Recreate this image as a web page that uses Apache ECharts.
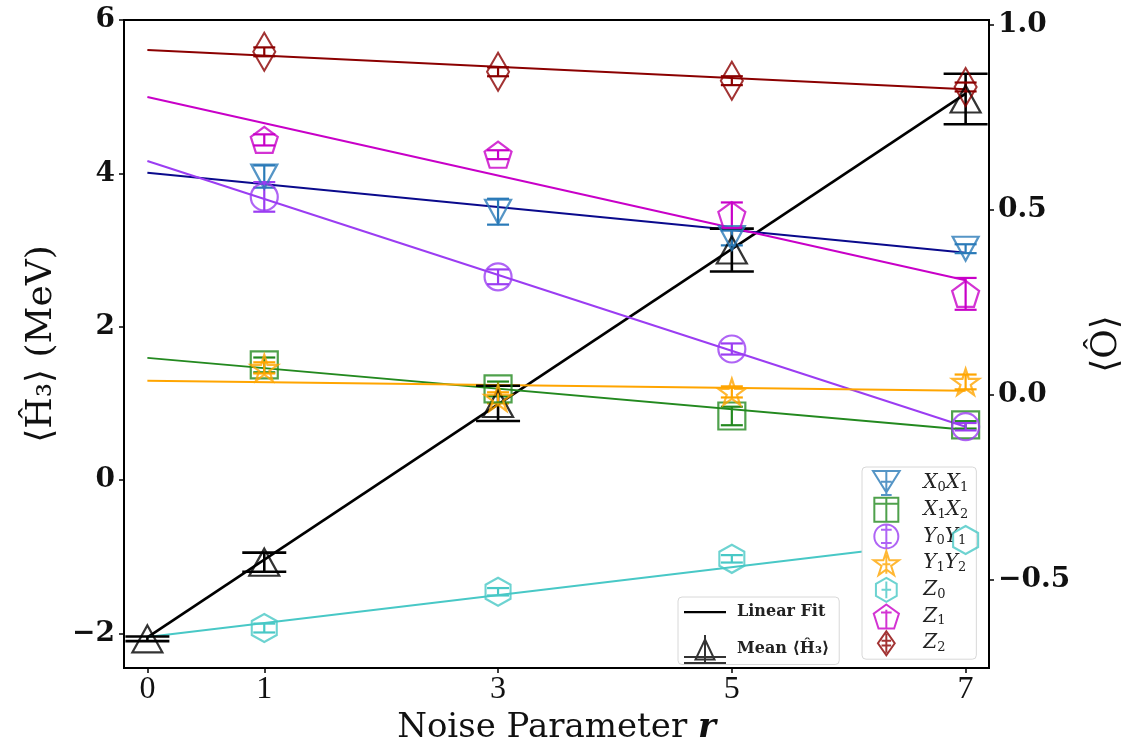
<!DOCTYPE html>
<html>
<head>
<meta charset="utf-8">
<script src="https://cdn.jsdelivr.net/npm/echarts@6/dist/echarts.min.js"></script>
<style>
html,body{margin:0;padding:0;background:#fff;overflow:hidden;}
#chart{width:1132px;height:743px;}
</style>
</head>
<body>
<div id="chart"></div>
<script>
// ---------------- data ----------------
const rValues   = [1, 3, 5, 7];
const meanR     = [0, 1, 3, 5, 7];
const fitR      = [0, 7];
const xTicks    = [0, 1, 3, 5, 7];
const leftTicks = [-2, 0, 2, 4, 6];
const rightTicks= [-0.5, 0, 0.5, 1.0];

const meanH3    = [-2.07, -1.07, 1.00, 3.00, 4.97];
const meanErr   = [0.03, 0.125, 0.23, 0.28, 0.33];
const meanFit   = [-2.05, 5.04];

const x0x1      = [0.590, 0.495, 0.424, 0.395];
const x0x1Err   = [0.030, 0.035, 0.020, 0.012];
const x0x1Fit   = [0.600, 0.384];

const x1x2      = [0.081, 0.016, -0.057, -0.081];
const x1x2Err   = [0.020, 0.020, 0.025, 0.010];
const x1x2Fit   = [0.100, -0.094];

const y0y1      = [0.535, 0.319, 0.124, -0.086];
const y0y1Err   = [0.040, 0.020, 0.015, 0.010];
const y0y1Fit   = [0.632, -0.086];

const y1y2      = [0.073, -0.008, 0.008, 0.035];
const y1y2Err   = [0.015, 0.015, 0.015, 0.020];
const y1y2Fit   = [0.038, 0.011];

const z0        = [-0.630, -0.532, -0.443, -0.392];
const z0Err     = [0.012, 0.010, 0.010, 0.010];
const z0Fit     = [-0.654, -0.390];

const z1        = [0.689, 0.649, 0.486, 0.273];
const z1Err     = [0.015, 0.012, 0.034, 0.043];
const z1Fit     = [0.805, 0.310];

const z2        = [0.927, 0.873, 0.849, 0.832];
const z2Err     = [0.012, 0.012, 0.012, 0.012];
const z2Fit     = [0.932, 0.826];

// ---------------- styling helpers ----------------
const SERIF = '"Liberation Serif", "DejaVu Serif", serif';
const DSERIF = '"DejaVu Serif", "Liberation Serif", serif';
const sym = {
  triDown: 'path://M0,0 L2,0 L1,1.8 Z',
  triUp:   'path://M1,0 L2,1.8 L0,1.8 Z',
  square:  'path://M0,0 L2,0 L2,2 L0,2 Z',
  circle:  'circle',
  star:    'path://M1,0 L1.2245,0.691 L1.9511,0.691 L1.3633,1.118 L1.5878,1.809 L1,1.382 L0.4122,1.809 L0.6367,1.118 L0.0489,0.691 L0.7755,0.691 Z',
  hexagon: 'path://M1,0 L1.866,0.5 L1.866,1.5 L1,2 L0.134,1.5 L0.134,0.5 Z',
  pentagon:'path://M1,0 L1.951,0.691 L1.588,1.809 L0.412,1.809 L0.049,0.691 Z',
  diamond: 'path://M1,0 L2,1 L1,2 L0,1 Z'
};
// legend icons: marker with an error bar drawn through it
const legIcon = {
  triDown: 'path://M0,0.2 L2,0.2 L1,1.8 Z M1,0.2 L1,2 M0.6,2 L1.4,2 M0.6,1 L1.4,1',
  square:  'path://M0.1,0.1 L1.9,0.1 L1.9,1.9 L0.1,1.9 Z M1,0.1 L1,1.9 M0.1,0.55 L1.9,0.55',
  circle:  'path://M1,0.1 A0.9,0.9 0 1 1 0.999,0.1 Z M1,0.1 L1,1.9 M0.6,0.5 L1.4,0.5 M0.6,1.5 L1.4,1.5',
  star:    'path://M1,0 L1.2245,0.691 L1.9511,0.691 L1.3633,1.118 L1.5878,1.809 L1,1.382 L0.4122,1.809 L0.6367,1.118 L0.0489,0.691 L0.7755,0.691 Z M1,0.3 L1,1.7 M0.7,1 L1.3,1',
  hexagon: 'path://M1,0 L1.866,0.5 L1.866,1.5 L1,2 L0.134,1.5 L0.134,0.5 Z M1,0.3 L1,1.7 M0.6,1 L1.4,1',
  pentagon:'path://M1,0.1 L1.951,0.791 L1.588,1.909 L0.412,1.909 L0.049,0.791 Z M1,0.5 L1,1.9 M0.6,0.7 L1.4,0.7',
  diamond: 'path://M1,0 L1.7,1 L1,2 L0.3,1 Z M1,0.2 L1,1.8 M0.6,0.8 L1.4,0.8 M0.6,1.2 L1.4,1.2',
  mean:    'path://M2.1,0.55 L3.05,2.55 L1.15,2.55 Z M2.1,0.1 L2.1,2.95 M0,2.3 L4.2,2.3 M0,2.9 L4.2,2.9',
  line:    'path://M0,1.4 L4.2,1.4 L4.2,1.62 L0,1.62 Z M0,0 M4.2,3'
};

function pts(xs, ys) { return xs.map((x, i) => [x, ys[i]]); }
function errPts(xs, ys, es) { return xs.map((x, i) => [x, ys[i], es[i]]); }

function fitSeries(name, ys, color, yAxisIndex, width) {
  return {
    name: name, type: 'line', yAxisIndex: yAxisIndex,
    data: pts(fitR, ys), symbol: 'none', silent: true,
    itemStyle: { color: color },
    lineStyle: { color: color, width: width || 2 }, z: 2
  };
}
function markerSeries(name, ys, color, symbol, size, yAxisIndex, xs) {
  return {
    name: name, type: 'scatter', yAxisIndex: yAxisIndex,
    data: pts(xs || rValues, ys), symbol: symbol, symbolSize: size,
    itemStyle: { color: 'rgba(255,255,255,0)', borderColor: color, borderWidth: 2.2 },
    z: 4
  };
}
function errSeries(name, ys, es, color, capHalf, yAxisIndex, xs, lw) {
  return {
    name: name, type: 'custom', yAxisIndex: yAxisIndex, silent: true,
    data: errPts(xs || rValues, ys, es),
    encode: { x: 0, y: 1 },
    z: 3,
    renderItem: function (params, api) {
      const x = api.value(0), y = api.value(1), e = api.value(2);
      const t = api.coord([x, y + e]);
      const b = api.coord([x, y - e]);
      const st = { stroke: color, lineWidth: lw || 2.2 };
      return {
        type: 'group',
        children: [
          { type: 'line', shape: { x1: t[0], y1: t[1], x2: b[0], y2: b[1] }, style: st },
          { type: 'line', shape: { x1: t[0] - capHalf, y1: t[1], x2: t[0] + capHalf, y2: t[1] }, style: st },
          { type: 'line', shape: { x1: b[0] - capHalf, y1: b[1], x2: b[0] + capHalf, y2: b[1] }, style: st }
        ]
      };
    }
  };
}

const C = {
  x0x1: '#2a7ab8', x0x1Line: '#0a0a8c',
  x1x2: '#23891f',
  y0y1: '#9b3df2',
  y1y2: '#ffa500',
  z0:   '#48c8c6',
  z1:   '#c800c8',
  z2:   '#8b0000'
};

const legendNames = ['X0X1', 'X1X2', 'Y0Y1', 'Y1Y2', 'Z0', 'Z1', 'Z2'];
const legendIconKeys = ['triDown', 'square', 'circle', 'star', 'hexagon', 'pentagon', 'diamond'];
const legendRich = {
  X0X1: '{g|}{i|X}{s|0}{i|X}{s|1}', X1X2: '{g|}{i|X}{s|1}{i|X}{s|2}',
  Y0Y1: '{g|}{i|Y}{s|0}{i|Y}{s|1}', Y1Y2: '{g|}{i|Y}{s|1}{i|Y}{s|2}',
  Z0: '{g|}{i|Z}{s|0}', Z1: '{g|}{i|Z}{s|1}', Z2: '{g|}{i|Z}{s|2}'
};

const minusFmt = (v, digits) => {
  const s = Math.abs(v).toFixed(digits);
  return v < 0 ? '\u2212' + s : s;
};

const option = {
  backgroundColor: '#fff',
  animation: false,
  grid: { left: 124, right: 143, top: 20, bottom: 75, outerBoundsMode: 'none', containLabel: false,
    show: true, borderColor: '#000', borderWidth: 2, backgroundColor: 'transparent' },
  xAxis: {
    type: 'value', min: -0.2, max: 7.2,
    name: '{a|Noise Parameter }{b|r}', nameLocation: 'middle', nameGap: 38,
    nameTextStyle: {
      rich: {
        a: { fontFamily: DSERIF, fontSize: 34, color: '#111' },
        b: { fontFamily: DSERIF, fontSize: 34, fontStyle: 'italic', fontWeight: 'bold', color: '#111' }
      }
    },
    axisLine: { show: true, onZero: false, lineStyle: { color: '#000', width: 2 } },
    axisTick: { show: true, customValues: xTicks, length: 5, lineStyle: { color: '#000', width: 1.5 } },
    axisLabel: { customValues: xTicks, fontFamily: SERIF, fontSize: 32, color: '#111', margin: 6 },
    splitLine: { show: false }
  },
  yAxis: [
    {
      type: 'value', position: 'left', min: -2.45, max: 6,
      name: '\u27e8\u0124\u2083\u27e9 (MeV)', nameLocation: 'middle', nameGap: 64, nameRotate: 90,
      nameTextStyle: { fontFamily: DSERIF, fontSize: 36, color: '#111' },
      axisLine: { show: true, onZero: false, lineStyle: { color: '#000', width: 2 } },
      axisTick: { show: true, customValues: leftTicks, length: 5, lineStyle: { color: '#000', width: 1.5 } },
      axisLabel: { customValues: leftTicks, fontFamily: DSERIF, fontWeight: 'bold', fontSize: 28, color: '#111', margin: 9,
        formatter: v => minusFmt(v, 0) },
      splitLine: { show: false }
    },
    {
      type: 'value', position: 'right', min: -0.738, max: 1.013,
      name: '\u27e8\u00d4\u27e9', nameLocation: 'middle', nameGap: 100, nameRotate: 90,
      nameTextStyle: { fontFamily: DSERIF, fontSize: 36, color: '#111' },
      axisLine: { show: true, onZero: false, lineStyle: { color: '#000', width: 2 } },
      axisTick: { show: true, customValues: rightTicks, length: 5, lineStyle: { color: '#000', width: 1.5 } },
      axisLabel: { customValues: rightTicks, fontFamily: DSERIF, fontWeight: 'bold', fontSize: 28, color: '#111', margin: 9,
        formatter: v => minusFmt(v, 1) },
      splitLine: { show: false }
    }
  ],
  legend: [
    {
      data: legendNames.map((n, i) => ({ name: n, icon: legIcon[legendIconKeys[i]] })),
      orient: 'vertical', left: 862, top: 467,
      itemWidth: 28, itemHeight: 24, itemGap: 0.7,
      padding: [3, 8, 3, 10],
      backgroundColor: '#fff', borderColor: '#d8d8d8', borderWidth: 1, borderRadius: 4,
      formatter: n => legendRich[n],
      textStyle: {
        lineHeight: 22,
        rich: {
          g: { width: 18, lineHeight: 22 },
          i: { fontFamily: DSERIF, fontStyle: 'italic', fontSize: 20, color: '#222', lineHeight: 22 },
          s: { fontFamily: DSERIF, fontSize: 13, color: '#222', lineHeight: 12, verticalAlign: 'bottom' }
        }
      }
    },
    {
      data: [{ name: 'Linear Fit', icon: legIcon.line }, { name: 'Mean \u27e8\u0124\u2083\u27e9', icon: legIcon.mean }],
      orient: 'vertical', left: 678, top: 597,
      itemWidth: 42, itemHeight: 30, itemGap: 7,
      padding: [0, 10, 0, 5],
      backgroundColor: '#fff', borderColor: '#d8d8d8', borderWidth: 1, borderRadius: 4,
      textStyle: { fontFamily: DSERIF, fontWeight: 'bold', fontSize: 16, color: '#222', lineHeight: 30, padding: [0, 0, 0, 6] }
    }
  ],
  series: [
    // fit lines
    fitSeries('Linear Fit', meanFit, '#000', 0, 2.6),
    fitSeries('fitX0X1', x0x1Fit, C.x0x1Line, 1, 2),
    fitSeries('fitX1X2', x1x2Fit, C.x1x2, 1, 2),
    fitSeries('fitY0Y1', y0y1Fit, C.y0y1, 1, 2),
    fitSeries('fitY1Y2', y1y2Fit, C.y1y2, 1, 2),
    fitSeries('fitZ0', z0Fit, C.z0, 1, 2),
    fitSeries('fitZ1', z1Fit, C.z1, 1, 2),
    fitSeries('fitZ2', z2Fit, C.z2, 1, 2),
    // error bars
    errSeries('eMean', meanH3, meanErr, '#000', 22, 0, meanR, 2.6),
    errSeries('eX0X1', x0x1, x0x1Err, C.x0x1, 11, 1),
    errSeries('eX1X2', x1x2, x1x2Err, C.x1x2, 11, 1),
    errSeries('eY0Y1', y0y1, y0y1Err, C.y0y1, 11, 1),
    errSeries('eY1Y2', y1y2, y1y2Err, C.y1y2, 11, 1),
    errSeries('eZ0', z0, z0Err, C.z0, 11, 1),
    errSeries('eZ1', z1, z1Err, C.z1, 11, 1),
    errSeries('eZ2', z2, z2Err, C.z2, 11, 1),
    // markers
    markerSeries('Mean \u27e8\u0124\u2083\u27e9', meanH3, '#000', sym.triUp, [30, 27], 0, meanR),
    markerSeries('X0X1', x0x1, C.x0x1, sym.triDown, [26, 24], 1),
    markerSeries('X1X2', x1x2, C.x1x2, sym.square, [27, 27], 1),
    markerSeries('Y0Y1', y0y1, C.y0y1, sym.circle, [27, 27], 1),
    markerSeries('Y1Y2', y1y2, C.y1y2, sym.star, [27, 26], 1),
    markerSeries('Z0', z0, C.z0, sym.hexagon, [25, 28], 1),
    markerSeries('Z1', z1, C.z1, sym.pentagon, [27, 26], 1),
    markerSeries('Z2', z2, C.z2, sym.diamond, [22, 38], 1)
  ]
};

const chart = echarts.init(document.getElementById('chart'), null, { renderer: 'canvas' });
chart.setOption(option);
</script>
</body>
</html>
